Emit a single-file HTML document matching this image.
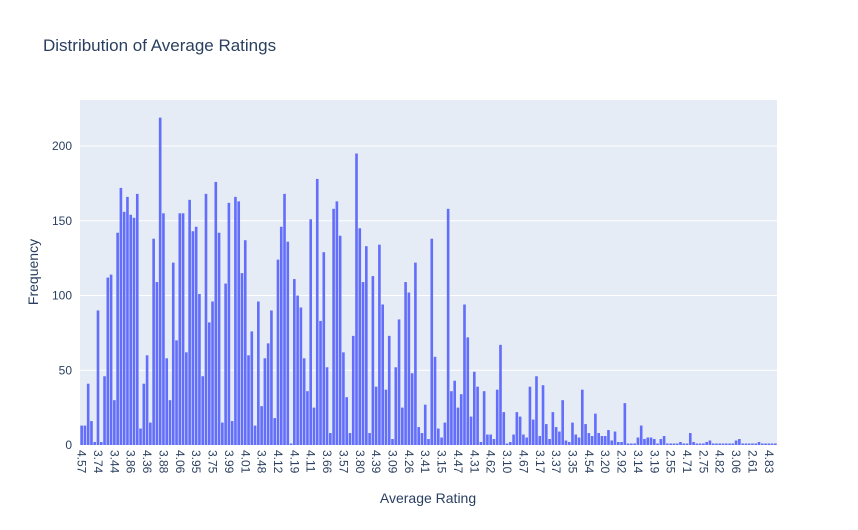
<!DOCTYPE html>
<html><head><meta charset="utf-8"><style>
body{margin:0;background:#fff;font-family:"Liberation Sans",Arial,sans-serif}
</style></head><body>
<svg id="chart" width="858" height="525" xmlns="http://www.w3.org/2000/svg">
<rect width="858" height="525" fill="#fff"/>
<text x="43" y="51" font-size="17" fill="#2a3f5f">Distribution of Average Ratings</text>
<rect x="80" y="100" width="697" height="345" fill="#e5ecf6"/>
<g id="grid"></g><g id="bars"></g><g id="yticks"></g><g id="xticks"></g>
<text x="428" y="503" font-size="14" fill="#2a3f5f" text-anchor="middle">Average Rating</text>
<text transform="translate(38,272) rotate(-90)" font-size="14" fill="#2a3f5f" text-anchor="middle">Frequency</text>
</svg>
<script>
const tickLabels=["4.57","3.74","3.44","3.86","4.36","3.88","4.06","3.95","3.75","3.99","4.01","3.48","4.12","4.19","4.11","3.66","3.57","3.80","4.39","3.09","4.26","3.41","3.15","4.47","4.31","4.62","3.10","4.67","3.17","3.37","3.35","4.54","3.20","2.92","3.14","3.19","2.55","4.71","2.75","4.82","3.06","2.61","4.83"];
const values=[13,13,41,16,2,90,2,46,112,114,30,142,172,156,166,154,152,168,11,41,60,15,138,109,219,155,58,30,122,70,155,155,62,164,143,146,101,46,168,82,96,176,142,15,108,162,16,166,163,115,137,60,76,13,96,26,58,68,90,18,124,146,168,136,1,111,100,92,58,36,151,25,178,83,129,52,8,158,163,140,62,32,8,73,195,145,109,133,8,113,39,134,94,37,73,4,52,84,25,109,102,48,122,12,8,27,4,138,59,11,5,15,158,36,43,25,34,94,72,19,49,39,2,36,7,7,4,37,67,22,1,2,7,22,19,7,5,39,17,46,6,40,14,4,22,12,9,30,3,2,15,7,5,37,14,8,6,21,8,6,6,10,3,9,2,2,28,1,1,1,5,13,4,5,5,4,1,4,6,1,1,1,1,2,1,1,8,2,1,1,1,2,3,1,1,1,1,1,1,1,3,4,1,1,1,1,1,2,1,1,1,1,1];
const yTicks=[0,50,100,150,200];
const tickEvery=5;
const NS="http://www.w3.org/2000/svg";
const X0=80,X1=777,Y0=445,Y1=100,YMAX=230.8;
const pitch=(X1-X0)/values.length;
const xc=i=>X0+pitch*(i+0.5);
const y=v=>Y0-(v/YMAX)*(Y0-Y1);
function mk(t,a){const e=document.createElementNS(NS,t);for(const k in a)e.setAttribute(k,a[k]);return e;}
const grid=document.getElementById('grid'),yt=document.getElementById('yticks');
yTicks.forEach(v=>{
  if(v>0){const l=mk('line',{x1:X0,x2:X1,y1:y(v),y2:y(v),stroke:'#fff','stroke-width':1});
  
  
  grid.appendChild(l);}
  const t=mk('text',{x:72,y:y(v)+4,'font-size':12,fill:'#2a3f5f','text-anchor':'end'});
  t.textContent=v;
  
  
  yt.appendChild(t);
});
const bars=document.getElementById('bars');
values.forEach((v,i)=>{
  const w=pitch*0.8;
  const r=mk('rect',{x:xc(i)-w/2,y:y(v),width:w,height:Y0-y(v),fill:'#636efa'});
  
  
  bars.appendChild(r);
});
const xt=document.getElementById('xticks');
tickLabels.forEach((s,k)=>{
  const i=k*tickEvery;if(i>=values.length)return;
  const t=mk('text',{transform:`translate(${xc(i)-4},${450}) rotate(90)`,'font-size':12,fill:'#2a3f5f'});
  t.textContent=s;
  
  
  xt.appendChild(t);
});
</script>
</body></html>
